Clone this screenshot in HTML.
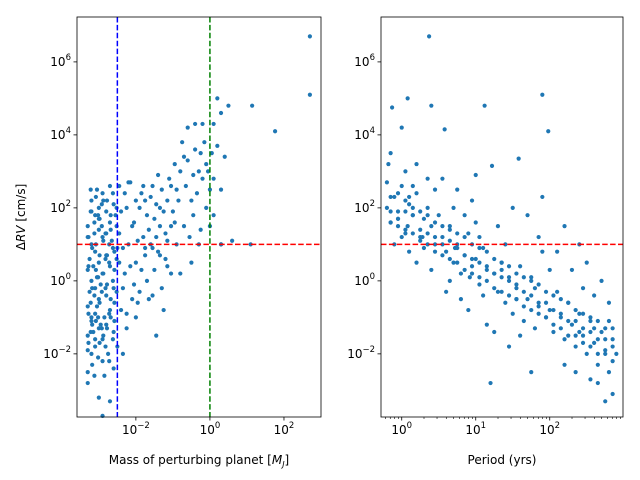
<!DOCTYPE html>
<html><head><meta charset="utf-8"><style>
html,body{margin:0;padding:0;background:#fff}
svg{display:block;font-family:"DejaVu Sans","Liberation Sans",sans-serif}
</style></head><body>
<svg id="c" width="640" height="480" xmlns="http://www.w3.org/2000/svg"></svg>
<script>
const leftX=[-3.3,-3.2,-3.1,-3.3,-3.0,-2.9,-3.2,-3.1,-2.8,-2.7,-3.3,-3.0,-2.9,-3.3,-2.6,-2.8,-3.1,-3.2,-2.9,-3.3,-3.0,-2.7,-2.8,-3.1,-3.2,-2.9,-3.0,-3.3,-2.7,-3.1,-2.8,-3.0,-2.6,-3.2,-2.9,-2.7,-3.3,-3.0,-2.6,-2.5,-3.15,-2.85,-3.05,-2.75,-3.25,-2.95,-2.65,-3.3,-2.55,-3.05,-2.85,-2.9,-2.5,-2.6,-3.2,-3.1,-3.25,-3.0,-2.8,-3.15,-2.95,-3.2,-3.05,-2.7,
-2.4,-2.3,-2.2,-2.1,-2.0,-1.9,-1.8,-1.7,-1.6,-1.5,-1.4,-1.3,-1.2,-1.1,-2.3,-2.1,-1.9,-1.7,-1.5,-1.3,-2.4,-2.2,-2.0,-1.8,-1.6,-1.4,-1.2,-1.0,-2.45,-2.0,-1.75,-1.55,-1.05,-2.25,-1.35,-1.15,-2.35,-1.45,
-0.9,-0.8,-0.7,-0.6,-0.5,-0.4,-0.3,-0.2,-0.1,0.0,-0.9,-0.7,-0.5,-0.3,-0.1,-0.6,-0.4,-0.2,0.1,0.2,0.3,0.5,0.1,0.2,0.3,0.1,0.3,0.6,-0.8,-0.95,-0.45,-0.15,0.05,0.4,-0.65,-0.35,-0.25,0.0,
1.1,0.3,1.14,1.76,2.7,2.7,
-3.28,-3.22,-3.18,-3.12,-3.08,-3.02,-2.98,-2.92,-2.88,-2.82,-2.78,-2.72,-2.68,-2.62,-2.58,-2.52,
-3.28,-3.22,-3.18,-3.12,-3.08,-3.02,-2.98,-2.92,-2.88,-2.82,-2.78,-2.72,-2.68,-2.62,-2.58,-2.52,
-3.28,-3.22,-3.18,-3.12,-3.08,-3.02,-2.98,-2.92,-2.88,-2.82,-2.78,-2.72,-2.68,-2.62,-2.58,-2.52,
-3.28,-3.22,-3.18,-3.12,-3.08,-3.02,-2.98,-2.92,-2.88,-2.82,-2.78,-2.72,-2.68,-2.62,-2.58,-2.52,
-2.45,-2.35,-2.25,-2.15,-2.05,-1.95,-1.85,-1.75,-1.65,-1.55,-1.45,-1.35,-1.25,-1.15,-1.05,
-2.45,-2.35,-2.25,-2.15,-2.05,-1.95,-1.85,-1.75,-1.65,-1.55,-1.45,-1.35,-1.25,-1.15,-1.05,
-0.95,-0.85,-0.75,-0.55,-0.45,-0.25,-0.05];
const leftY=[-2.5,-2.0,-1.8,-1.5,-1.3,-1.6,-1.1,-0.9,-1.2,-0.8,-0.7,-0.5,-2.2,-1.9,-1.4,-0.4,-0.2,0.0,0.2,0.3,0.5,0.4,0.7,0.8,1.0,1.2,1.4,1.5,1.6,1.8,1.9,2.0,2.1,2.2,2.4,2.6,-2.8,-3.2,-0.2,0.9,-1.4,-1.0,-0.7,-2.0,0.6,-0.1,1.1,1.2,1.8,2.5,-2.6,-3.7,-1.8,-2.4,-1.0,-1.6,-0.3,1.7,1.3,0.4,-1.2,1.9,0.1,-3.3,
-0.8,0.2,1.0,1.5,0.5,2.0,1.2,0.0,2.3,1.7,0.8,2.5,1.3,2.8,2.4,-0.5,-0.3,1.8,0.3,-0.2,1.9,2.7,2.2,2.6,1.0,2.9,0.6,1.9,0.5,-1.0,0.7,2.6,0.2,-1.3,1.5,2.2,-2.0,-1.5,
2.5,3.0,1.5,3.3,2.2,3.6,1.0,2.8,3.2,2.5,1.0,3.4,0.5,3.0,2.0,4.2,4.3,4.3,4.3,5.0,4.6,4.8,2.8,3.7,2.5,1.8,1.0,1.1,0.2,3.2,1.8,3.8,3.5,3.4,2.6,2.4,3.5,1.5,
1.0,1.0,4.8,4.1,6.7,5.1,
-1.7,-0.6,0.9,1.3,-1.1,0.1,1.7,-0.3,-1.5,0.6,2.2,-0.9,1.4,0.0,-0.6,1.5,
0.4,1.9,-1.2,-0.4,2.3,-2.1,0.7,1.5,0.2,-1.8,-0.1,1.0,-0.5,2.4,0.8,-0.3,
-0.9,2.5,-2.3,1.6,0.3,-1.0,-1.7,2.1,1.1,-0.2,-1.3,0.5,1.8,-1.6,0.3,2.0,
1.2,-1.4,-0.2,-2.6,1.0,1.8,-0.6,-1.3,2.2,1.3,0.7,-2.2,-1.0,0.9,-1.1,0.6,
1.3,-0.2,2.0,0.4,1.6,-0.6,2.4,0.9,1.4,-0.4,2.1,0.7,1.9,1.1,2.6,
2.6,0.9,-0.9,2.7,-0.1,1.1,0.3,2.2,-0.5,0.9,1.2,2.0,-0.8,0.4,1.5,
1.6,2.2,3.8,1.2,2.9,1.4,3.0];
const rightX=[-0.2,-0.15,-0.1,-0.05,0.0,0.05,0.1,0.15,0.2,0.25,0.3,0.35,0.4,0.45,0.5,-0.1,0.0,0.1,0.2,0.3,0.4,-0.2,0.05,0.2,0.35,0.45,-0.15,0.0,0.1,-0.05,0.15,-0.18,0.08,0.28,
0.55,0.6,0.65,0.7,0.75,0.8,0.85,0.9,0.95,1.0,1.05,1.1,1.15,0.6,0.7,0.8,0.9,1.0,1.1,0.65,0.75,0.85,0.95,1.05,1.15,0.55,1.0,0.72,0.92,
1.25,1.3,1.35,1.4,1.45,1.5,1.55,1.6,1.65,1.7,1.75,1.8,1.85,1.9,1.95,1.3,1.5,1.7,1.9,1.4,1.6,1.8,1.25,1.2,1.45,1.75,1.85,1.35,1.55,
2.0,2.05,2.1,2.15,2.2,2.25,2.3,2.35,2.4,2.45,2.5,2.55,2.6,2.65,2.7,2.75,2.8,2.85,2.1,2.3,2.5,2.7,2.8,2.2,2.4,2.6,2.2,2.55,2.75,2.85,2.65,2.35,2.45,2.0,2.9,2.6,2.8,2.4,
0.37,0.08,-0.13,0.4,1.12,1.9,1.98,0.58,1.22,1.58,
-0.15,-0.05,0.05,0.15,0.25,0.35,0.45,0.55,0.65,0.75,0.85,0.95,1.05,1.15,1.25,1.35,1.45,1.55,1.65,1.75,1.85,1.95,2.05,2.15,2.25,2.35,2.45,2.55,2.65,2.75,2.85,
-0.15,-0.05,0.05,0.15,0.25,0.35,0.45,0.55,0.65,0.75,0.85,0.95,1.05,1.15,1.25,1.35,1.45,1.55,1.65,1.75,1.85,1.95,2.05,2.15,2.25,2.35,2.45,2.55,2.65,2.75,2.85,
-0.15,-0.05,0.05,0.15,0.25,0.35,0.45,0.55,0.65,0.75,0.85,0.95,1.05,1.15,1.25,1.35,1.45,1.55,1.65,1.75,1.85,1.95,2.05,2.15,2.25,2.35,2.45,2.55,2.65,2.75,2.85];
const rightY=[2.0,1.6,2.3,1.9,2.6,1.4,2.1,1.8,2.4,1.2,1.7,2.0,1.5,1.0,1.8,1.0,1.2,0.8,0.5,0.9,0.3,2.7,3.0,3.2,2.8,2.5,3.5,4.2,2.3,1.7,2.6,3.2,1.5,1.2,
1.2,0.8,1.5,0.5,1.0,0.2,0.7,1.3,0.4,0.6,-0.1,0.9,0.3,-0.3,2.0,-0.5,-0.8,1.6,-0.4,0.0,2.5,1.8,2.2,1.2,-1.2,2.8,2.9,0.9,0.1,
0.2,-0.3,0.5,-0.6,0.0,-0.9,-0.2,0.4,-1.1,-0.5,0.1,-1.3,-0.7,0.8,-1.0,1.5,2.0,1.8,2.3,1.0,-1.5,-0.2,-1.4,-2.8,-1.8,-2.5,1.2,0.3,-0.5,
-0.8,-1.4,-0.3,-1.0,-1.6,-0.6,-1.2,-1.8,-0.9,-1.5,-2.0,-1.1,-1.7,-2.3,-1.4,-1.9,-2.5,-1.6,0.8,0.3,0.5,0.0,-0.6,1.5,1.0,-0.4,-2.3,-2.7,-3.3,-3.1,-2.8,-2.5,-0.2,0.3,-2.0,-1.3,-1.1,-1.4,
6.7,5.0,4.75,4.8,4.8,5.1,4.1,4.15,3.15,3.35,
2.3,1.5,2.2,1.3,1.9,1.0,1.6,0.7,1.4,0.5,1.2,0.2,0.9,0.0,0.6,-0.3,0.4,-0.5,0.1,-0.8,-0.1,-1.0,-0.4,-1.3,-0.6,-1.5,-0.9,-1.8,-1.1,-2.0,-1.3,
1.6,2.4,1.3,2.0,1.1,1.8,0.8,1.5,0.6,1.3,0.3,1.0,0.1,0.8,-0.2,0.5,-0.4,0.2,-0.7,0.0,-0.9,-0.3,-1.2,-0.5,-1.5,-0.8,-1.7,-1.0,-2.0,-1.3,-2.2,
1.9,1.7,1.9,1.8,1.4,1.3,1.2,1.0,1.1,0.9,0.7,0.6,0.5,0.4,0.2,0.1,0.1,-0.1,-0.3,-0.4,-0.6,-0.6,-0.8,-0.9,-1.1,-1.1,-1.3,-1.4,-1.6,-1.6,-1.8];
const yTicks=[-2,0,2,4,6];
const leftXTicks=[-2,0,2];
const rightXTicks=[0,1,2];
const hLine=1, vBlue=-2.5, vGreen=0;

const NS='http://www.w3.org/2000/svg', svgRoot=document.getElementById('c');
function el(t,a,p){const e=document.createElementNS(NS,t);for(const k in a)e.setAttribute(k,a[k]);(p||svgRoot).appendChild(e);return e;}
const TOP=17,BOT=417,Y0=7.23,Y1=-3.73;
const yS=v=>TOP+(Y0-v)/(Y0-Y1)*(BOT-TOP);
function panel(name,L,R,x0,x1,xs,ys,xt,minor,xlabel){
  const xS=v=>L+(v-x0)/(x1-x0)*(R-L);
  const g=el('g',{});
  
  
  const pts=el('g',{},g);
  
  
  for(let i=0;i<xs.length;i++){
    const c=el('circle',{cx:xS(xs[i]),cy:yS(ys[i]),r:2.1,fill:'#1f77b4'},pts);
    
    
  }
  const h=el('line',{x1:L,x2:R,y1:yS(hLine),y2:yS(hLine),stroke:'#ff0000','stroke-width':1.5,'stroke-dasharray':'5.5,2.4'},g);
  
  
  if(name==='mass'){
    const b=el('line',{x1:xS(vBlue),x2:xS(vBlue),y1:TOP,y2:BOT,stroke:'#0000ff','stroke-width':1.5,'stroke-dasharray':'5.5,2.4'},g);
    
    
    const gr=el('line',{x1:xS(vGreen),x2:xS(vGreen),y1:TOP,y2:BOT,stroke:'#008000','stroke-width':1.5,'stroke-dasharray':'5.5,2.4'},g);
    
    
  }
  const fr=el('rect',{x:L,y:TOP,width:R-L,height:BOT-TOP,fill:'none',stroke:'#000','stroke-width':0.8},g);
  
  
  xt.forEach(v=>{const x=xS(v);el('line',{x1:x,x2:x,y1:BOT,y2:BOT+3.5,stroke:'#000','stroke-width':0.8},g);
    const t=el('text',{x:x,y:BOT+17,'font-size':12,'text-anchor':'middle'},g);
    
    
    t.innerHTML='10<tspan dy="-6" font-size="8.5">'+(v<0?'\u2212'+(-v):v)+'</tspan>';});
  if(minor){for(let d=Math.floor(x0);d<x1;d++)for(let m=2;m<10;m++){const v=d+Math.log10(m);if(v>x0&&v<x1){const x=xS(v);el('line',{x1:x,x2:x,y1:BOT,y2:BOT+2,stroke:'#000','stroke-width':0.6},g);}}}
  yTicks.forEach(v=>{const y=yS(v);el('line',{x1:L,x2:L-3.5,y1:y,y2:y,stroke:'#000','stroke-width':0.8},g);
    const t=el('text',{x:L-6,y:y+4,'font-size':12,'text-anchor':'end'},g);
    
    
    t.innerHTML='10<tspan dy="-6" font-size="8.5">'+(v<0?'\u2212'+(-v):v)+'</tspan>';});
  const xl=el('text',{x:(L+R)/2,y:464,'font-size':12,'text-anchor':'middle'},g);
  
  
  xl.innerHTML=xlabel;
}
panel('mass',77,321,-3.59,3.0,leftX,leftY,leftXTicks,false,'Mass of perturbing planet [<tspan font-style="italic">M</tspan><tspan font-style="italic" font-size="8" dy="3">J</tspan><tspan dy="-3">]</tspan>');
panel('period',381,623,-0.28,2.99,rightX,rightY,rightXTicks,true,'Period (yrs)');
const yl=el('text',{x:0,y:0,'font-size':12,'text-anchor':'middle',transform:'translate(25,217) rotate(-90)'});


yl.innerHTML='Δ<tspan font-style="italic">RV</tspan> [cm/s]';
</script>
</body></html>
